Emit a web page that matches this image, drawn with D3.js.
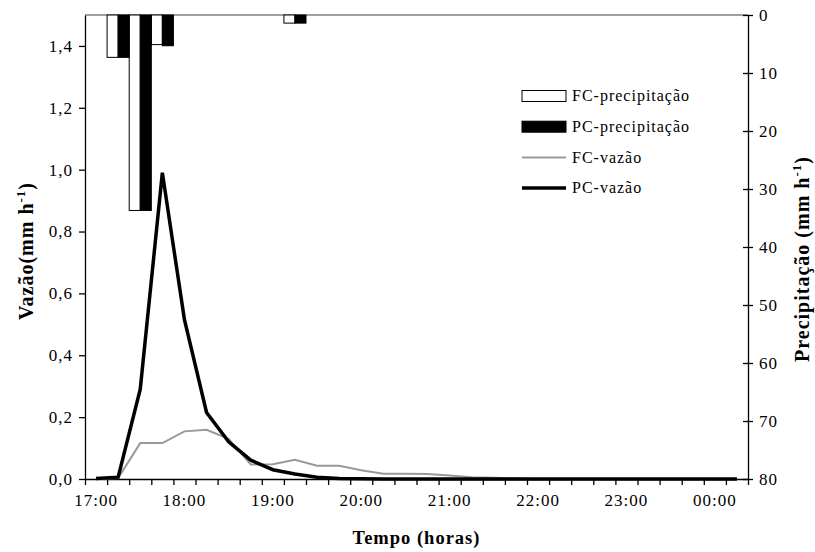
<!DOCTYPE html>
<html>
<head>
<meta charset="utf-8">
<script src="https://cdn.jsdelivr.net/npm/d3@7"></script>
<style>
body { margin: 0; background: #fff; }
text { font-family: "Liberation Serif", "Times New Roman", serif; fill: #000; letter-spacing: 1px; }
.tick text { font-size: 17px; }
.title { font-size: 18.5px; font-weight: bold; }
.vtitle { font-size: 20px; font-weight: bold; }
.legend text { font-size: 16px; }
</style>
</head>
<body>
<svg id="chart"></svg>
<script>
// categories every 15 minutes, 17:00 .. 00:15
var times = ["17:00","17:15","17:30","17:45","18:00","18:15","18:30","18:45",
             "19:00","19:15","19:30","19:45","20:00","20:15","20:30","20:45",
             "21:00","21:15","21:30","21:45","22:00","22:15","22:30","22:45",
             "23:00","23:15","23:30","23:45","00:00","00:15"];
var timeLabels = ["17:00","18:00","19:00","20:00","21:00","22:00","23:00","00:00"];

// vazao (mm h-1)
var fcVazao = [0.0,0.003,0.116,0.116,0.154,0.159,0.13,0.047,0.048,0.062,0.043,0.043,
               0.028,0.017,0.017,0.016,0.011,0.006,0.004,0.002,0,0,0,0,0,0,0,0,0,0];
var pcVazao = [0.002,0.006,0.29,0.99,0.515,0.215,0.12,0.061,0.03,0.016,0.006,0.002,
               0.001,0,0,0,0,0,0,0,0,0,0,0,0,0,0,0,0,0];

// precipitacao (mm h-1)
var fcPrecip = [0,7.3,33.7,5.1,0,0,0,0,0,1.4,0,0,0,0,0,0,0,0,0,0,0,0,0,0,0,0,0,0,0,0];
var pcPrecip = [0,7.3,33.7,5.3,0,0,0,0,0,1.4,0,0,0,0,0,0,0,0,0,0,0,0,0,0,0,0,0,0,0,0];

var vazaoTicks = [0,0.2,0.4,0.6,0.8,1.0,1.2,1.4];
var precipTicks = [0,10,20,30,40,50,60,70,80];

var screen = {width:815,height:552};
var plot = {left:85,right:748,top:15,bottom:479};

var svg = d3.select("#chart")
    .attr("width",screen.width)
    .attr("height",screen.height);

var xScale = d3.scaleBand()
    .domain(times)
    .range([plot.left,plot.right])
    .padding(0);

var xIndex = d3.scaleLinear()
    .domain([0,times.length])
    .range([plot.left,plot.right]);

var barScale = d3.scaleBand()
    .domain(["fc","pc"])
    .range([0,xScale.bandwidth()])
    .padding(0);

var yScale = d3.scaleLinear()
    .domain([0,1.5])
    .range([plot.bottom,plot.top]);

var pScale = d3.scaleLinear()
    .domain([0,80])
    .range([plot.top,plot.bottom]);

var comma = function(v) { return d3.format(".1f")(v).replace(".",","); };

// top border of plot area
svg.append("line")
    .attr("x1",plot.left).attr("x2",plot.right)
    .attr("y1",plot.top).attr("y2",plot.top)
    .attr("stroke","#808080").attr("stroke-width",1.5);

// precipitation bars hanging from the top
var bars = svg.append("g");
bars.selectAll("rect.fc")
    .data(fcPrecip.map(function(v,i){ return {t:times[i],v:v}; }).filter(function(d){ return d.v>0; }))
    .enter()
    .append("rect")
    .attr("x",function(d){ return xScale(d.t)+barScale("fc"); })
    .attr("y",pScale(0))
    .attr("width",barScale.bandwidth())
    .attr("height",function(d){ return pScale(d.v)-pScale(0); })
    .attr("fill","#fff")
    .attr("stroke","#000")
    .attr("stroke-width",1);
bars.selectAll("rect.pc")
    .data(pcPrecip.map(function(v,i){ return {t:times[i],v:v}; }).filter(function(d){ return d.v>0; }))
    .enter()
    .append("rect")
    .attr("x",function(d){ return xScale(d.t)+barScale("pc"); })
    .attr("y",pScale(0))
    .attr("width",barScale.bandwidth())
    .attr("height",function(d){ return pScale(d.v)-pScale(0); })
    .attr("fill","#000")
    .attr("stroke","#000")
    .attr("stroke-width",1);

// axes
var yAxis = d3.axisLeft(yScale)
    .tickValues(vazaoTicks)
    .tickFormat(comma)
    .tickSizeInner(6).tickSizeOuter(0).tickPadding(6);
svg.append("g")
    .attr("transform","translate("+plot.left+",0)")
    .call(yAxis);

var pAxis = d3.axisRight(pScale)
    .tickValues(precipTicks)
    .tickSizeInner(5).tickSizeOuter(0).tickPadding(6);
var pg = svg.append("g")
    .attr("transform","translate("+plot.right+",0)")
    .call(pAxis);
pg.selectAll(".tick line").attr("x1",-5);

var xTicks = d3.axisBottom(xIndex)
    .tickValues(d3.range(0,times.length+1))
    .tickFormat("")
    .tickSizeInner(6).tickSizeOuter(0);
svg.append("g")
    .attr("transform","translate(0,"+plot.bottom+")")
    .call(xTicks);

var xLabels = d3.axisBottom(xScale)
    .tickValues(timeLabels)
    .tickSize(0).tickPadding(15);
var xl = svg.append("g")
    .attr("transform","translate(0,"+plot.bottom+")")
    .call(xLabels);
xl.select(".domain").remove();

svg.selectAll(".domain").attr("stroke","#000").attr("stroke-width",1.3);
svg.selectAll(".tick line").attr("stroke","#000").attr("stroke-width",1.3);

// lines
var line = d3.line()
    .x(function(d,i){ return xScale(times[i])+xScale.bandwidth()/2; })
    .y(function(d){ return yScale(d); });

svg.append("path")
    .attr("d",line(fcVazao))
    .attr("fill","none")
    .attr("stroke","#999")
    .attr("stroke-width",2);

svg.append("path")
    .attr("d",line(pcVazao))
    .attr("fill","none")
    .attr("stroke","#000")
    .attr("stroke-width",3.5)
    .attr("stroke-linejoin","miter");

// titles
var t1 = svg.append("text")
    .classed("vtitle",true)
    .attr("text-anchor","middle")
    .attr("transform","translate(33,"+((plot.top+plot.bottom)/2+4)+") rotate(-90)");
t1.append("tspan").text("Vazão(mm h");
t1.append("tspan").attr("font-size","13px").attr("dy","-8").text("-1");
t1.append("tspan").attr("dy","8").text(")");

var t2 = svg.append("text")
    .classed("vtitle",true)
    .attr("text-anchor","middle")
    .attr("transform","translate(809,"+((plot.top+plot.bottom)/2+12)+") rotate(-90)");
t2.append("tspan").text("Precipitação (mm h");
t2.append("tspan").attr("font-size","13px").attr("dy","-8").text("-1");
t2.append("tspan").attr("dy","8").text(")");

svg.append("text")
    .classed("title",true)
    .attr("text-anchor","middle")
    .attr("x",(plot.left+plot.right)/2)
    .attr("y",544)
    .text("Tempo (horas)");

// legend
var legendItems = ["FC-precipitação","PC-precipitação","FC-vazão","PC-vazão"];
var legend = svg.append("g").classed("legend",true)
    .attr("transform","translate(522,96)");
var rows = legend.selectAll("g")
    .data(legendItems)
    .enter()
    .append("g")
    .attr("transform",function(d,i){ return "translate(0,"+(i*30.7)+")"; });
rows.each(function(d,i){
    var g = d3.select(this);
    if (i<2) {
        g.append("rect")
            .attr("x",0).attr("y",-5.5)
            .attr("width",44).attr("height",11)
            .attr("fill",i==0?"#fff":"#000")
            .attr("stroke","#000").attr("stroke-width",1);
    } else {
        g.append("line")
            .attr("x1",0).attr("x2",44)
            .attr("stroke",i==2?"#999":"#000")
            .attr("stroke-width",i==2?2:3.5);
    }
    g.append("text")
        .attr("x",50)
        .attr("dy","0.33em")
        .text(d);
});
</script>
</body>
</html>
